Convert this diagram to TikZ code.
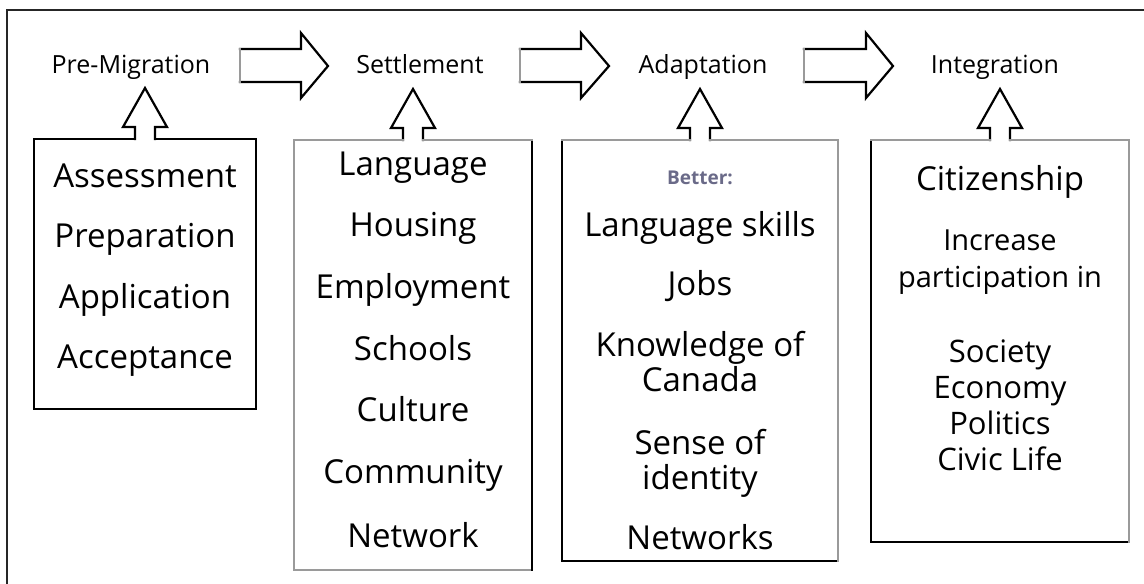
\documentclass[tikz,border=0pt]{standalone}
\usepackage{fontspec}
\setmainfont{Open Sans}
\usetikzlibrary{calc}
\definecolor{lgray}{HTML}{9A9A9A}
\definecolor{betterc}{HTML}{6A6A88}
\begin{document}
\begin{tikzpicture}[x=1pt,y=-1pt,
  blk/.style={line width=2.2pt, black, line join=miter, line cap=rect},
  gry/.style={line width=2.2pt, lgray, line cap=rect},
  boxn/.style={draw=none, inner sep=0pt, outer sep=0pt, rectangle},
  hdr/.style={font=\fontsize{25}{29}\selectfont, anchor=base, inner sep=0pt},
  item/.style={font=\fontsize{33}{39}\selectfont, anchor=base, inner sep=0pt},
  sitem/.style={font=\fontsize{31}{36}\selectfont, anchor=base, inner sep=0pt},
  inc/.style={font=\fontsize{29}{34}\selectfont, anchor=base, inner sep=0pt},
  bet/.style={font=\bfseries\fontsize{19}{23}\selectfont, text=betterc, anchor=base, inner sep=0pt}
]
\useasboundingbox (0,0) rectangle (1144,584);
\fill[white] (0,0) rectangle (1144,584);
% outer frame
\draw[line width=2.5pt, black!85] (7,584) -- (7,10) -- (1144,10);

% headers
\node[hdr] (pm) at (131,73) {Pre-Migration};
\node[hdr] (st) at (420,73) {Settlement};
\node[hdr] (ad) at (703,73) {Adaptation};
\node[hdr] (ig) at (995,73) {Integration};

% right block arrows
\foreach \t/\b/\p [count=\i] in {240/301/328, 520/581/609, 804/866/893}{
  \draw[blk] (\t,49) -- (\b,49) -- (\b,33) -- (\p,66) -- (\b,98) -- (\b,82) -- (\t,82);
  \draw[gry] (\t,82) -- (\t,49);
}

% boxes
\node[boxn, minimum width=222pt, minimum height=270pt] (b1) at (145,274) {};
\node[boxn, minimum width=238pt, minimum height=430pt] (b2) at (413,355) {};
\node[boxn, minimum width=276pt, minimum height=421pt] (b3) at (700,350.5) {};
\node[boxn, minimum width=258pt, minimum height=402pt] (b4) at (1000,341) {};

% up arrows
\foreach \b in {b1,b2,b3,b4}{
  \draw[blk] ($(\b.north)+(-10,0)$) -- ++(0,-12) -- ++(-12,0) -- ++(22,-39) -- ++(22,39) -- ++(-12,0) -- ++(0,12);
}

% box outlines
\draw[blk] ($(b1.north)+(-10,0)$) -- (b1.north west) -- (b1.south west) -- (b1.south east) -- (b1.north east) -- ($(b1.north)+(10,0)$);
\draw[gry] ($(b2.north)+(-10,0)$) -- (b2.north west) -- (b2.south west) -- (b2.south east);
\draw[blk] (b2.south east) -- (b2.north east);
\draw[gry] (b2.north east) -- ($(b2.north)+(10,0)$);
\foreach \b in {b3,b4}{
  \draw[blk] (\b.north west) -- (\b.south west) -- (\b.south east);
  \draw[gry] ($(\b.north)+(-10,0)$) -- (\b.north west);
  \draw[gry] (\b.south east) -- (\b.north east) -- ($(\b.north)+(10,0)$);
}

% box 1 text
\node[item] (t11) at (145,187) {Assessment};
\node[item] (t12) at (145,247) {Preparation};
\node[item] (t13) at (145,308) {Application};
\node[item] (t14) at (145,368) {Acceptance};

% box 2 text
\node[item] (t21) at (413,175) {Language};
\node[item] (t22) at (413,236) {Housing};
\node[item] (t23) at (413,298) {Employment};
\node[item] (t24) at (413,360) {Schools};
\node[item] (t25) at (413,421) {Culture};
\node[item] (t26) at (413,483) {Community};
\node[item] (t27) at (413,547) {Network};

% box 3 text
\node[bet] (t30) at (700,184) {Better:};
\node[item] (t31) at (700,236) {Language skills};
\node[item] (t32) at (700,295) {Jobs};
\node[item] (t33) at (700,356) {Knowledge of};
\node[item] (t34) at (700,391) {Canada};
\node[item] (t35) at (700,454) {Sense of};
\node[item] (t36) at (700,489) {identity};
\node[item] (t37) at (700,549) {Networks};

% box 4 text
\node[item] (t41) at (1000,190) {Citizenship};
\node[inc] (t42) at (1000,250) {Increase};
\node[inc] (t43) at (1000,287) {participation in};
\node[sitem] (t44) at (1000,362) {Society};
\node[sitem] (t45) at (1000,398) {Economy};
\node[sitem] (t46) at (1000,434) {Politics};
\node[sitem] (t47) at (1000,470) {Civic Life};
\end{tikzpicture}
\end{document}
